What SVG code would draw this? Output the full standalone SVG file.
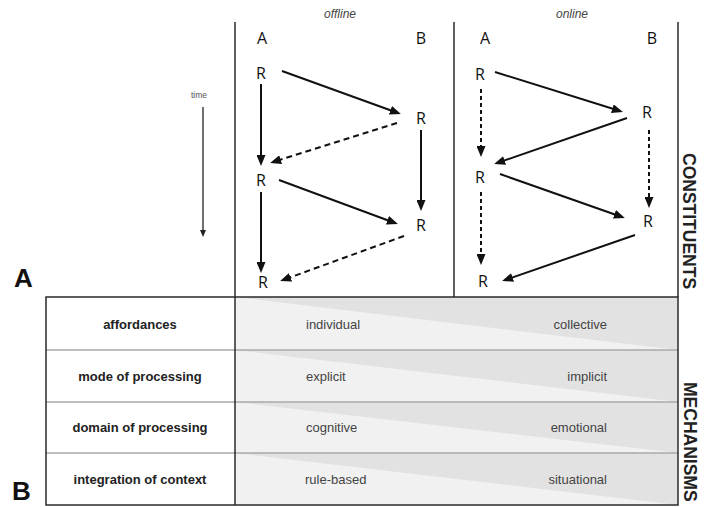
<svg xmlns="http://www.w3.org/2000/svg" width="709" height="507" viewBox="0 0 709 507">
<style>
.frame{stroke:#2a2a2a;stroke-width:1.5;fill:none}
.sep{stroke:#a8a8a8;stroke-width:1.5}
.arr{stroke:#111;stroke-width:2;fill:none;marker-end:url(#ah)}
.dash{stroke-dasharray:6 4}
.dot{stroke-dasharray:4 3}
.r{font-family:"Open Sans","DejaVu Sans",sans-serif;font-size:16px;fill:#111;text-anchor:middle}
.hd{font-family:"Liberation Sans",Arial,sans-serif;font-size:12px;font-style:italic;fill:#444;text-anchor:middle}
.lab{font-family:"Liberation Sans",Arial,sans-serif;font-size:13px;font-weight:bold;fill:#222;text-anchor:middle}
.val{font-family:"Liberation Sans",Arial,sans-serif;font-size:13px;fill:#444}
.big{font-family:"Liberation Sans",Arial,sans-serif;font-size:26px;font-weight:bold;fill:#111}
.side{font-family:"Liberation Sans",Arial,sans-serif;font-size:17.5px;font-weight:bold;fill:#222}
.light{fill:#f1f1f1}
.dark{fill:#e2e2e2}
</style>
<defs>
<marker id="ah" markerUnits="userSpaceOnUse" markerWidth="11" markerHeight="9" refX="8" refY="4.5" orient="auto">
<path d="M0,0 L11,4.5 L0,9 z" fill="#111"/>
</marker>
<marker id="ahs" markerUnits="userSpaceOnUse" markerWidth="7" markerHeight="6" refX="5" refY="3" orient="auto">
<path d="M0,0 L7,3 L0,6 z" fill="#222"/>
</marker>
</defs>

<g id="panel-labels">
<text class="big" x="14" y="287">A</text>
<text class="big" x="12" y="500">B</text>
</g>

<g id="time">
<text x="199" y="98" font-family="Liberation Sans, Arial, sans-serif" font-size="8.5" fill="#555" text-anchor="middle">time</text>
<line x1="203" y1="107" x2="203" y2="235" stroke="#222" stroke-width="1.3" marker-end="url(#ahs)"/>
</g>

<g id="frame-top">
<line class="frame" x1="235" y1="22" x2="235" y2="297"/>
<line class="frame" x1="454" y1="22" x2="454" y2="297"/>
</g>

<g id="heading-offline"><text class="hd" x="340" y="18">offline</text></g>
<g id="heading-online"><text class="hd" x="572" y="18">online</text></g>

<g id="offline-A"><text class="r" x="262" y="44">A</text></g>
<g id="offline-B"><text class="r" x="421" y="44">B</text></g>
<g id="online-A"><text class="r" x="485" y="44">A</text></g>
<g id="online-B"><text class="r" x="652" y="44">B</text></g>

<g id="off-RA1"><text class="r" x="261" y="79">R</text></g>
<g id="off-RB1"><text class="r" x="421" y="124">R</text></g>
<g id="off-RA2"><text class="r" x="261" y="186">R</text></g>
<g id="off-RB2"><text class="r" x="421" y="231">R</text></g>
<g id="off-RA3"><text class="r" x="263" y="288">R</text></g>

<g id="on-RA1"><text class="r" x="480" y="80">R</text></g>
<g id="on-RB1"><text class="r" x="647" y="118">R</text></g>
<g id="on-RA2"><text class="r" x="480" y="183">R</text></g>
<g id="on-RB2"><text class="r" x="648" y="227">R</text></g>
<g id="on-RA3"><text class="r" x="483" y="287">R</text></g>

<g id="connectors">
<line class="arr" x1="282" y1="71" x2="398" y2="113"/>
<line class="arr" x1="261" y1="84" x2="261" y2="163"/>
<line class="arr dash" x1="397" y1="123" x2="273" y2="162"/>
<line class="arr" x1="421" y1="130" x2="421" y2="208"/>
<line class="arr" x1="279" y1="180" x2="395" y2="223"/>
<line class="arr" x1="261" y1="192" x2="261" y2="270"/>
<line class="arr dash" x1="404" y1="236" x2="283" y2="280"/>

<line class="arr" x1="495" y1="72" x2="620" y2="111"/>
<line class="arr dot" x1="481" y1="89" x2="481" y2="154"/>
<line class="arr" x1="627" y1="118" x2="497" y2="163"/>
<line class="arr dot" x1="649" y1="130" x2="649" y2="205"/>
<line class="arr" x1="500" y1="174" x2="622" y2="217"/>
<line class="arr dot" x1="481" y1="192" x2="481" y2="262"/>
<line class="arr" x1="635" y1="235" x2="505" y2="280"/>
</g>

<g id="row-affordances">
<rect class="light" x="235" y="297" width="443" height="53"/>
<polygon class="dark" points="235,297 678,297 678,350"/>
<text class="lab" x="140" y="329">affordances</text>
<text class="val" x="306" y="329">individual</text>
<text class="val" x="607" y="329" text-anchor="end">collective</text>
</g>
<g id="row-mode">
<rect class="light" x="235" y="350" width="443" height="52"/>
<polygon class="dark" points="235,350 678,350 678,402"/>
<text class="lab" x="140" y="381">mode of processing</text>
<text class="val" x="306" y="381">explicit</text>
<text class="val" x="607" y="381" text-anchor="end">implicit</text>
</g>
<g id="row-domain">
<rect class="light" x="235" y="402" width="443" height="51"/>
<polygon class="dark" points="235,402 678,402 678,453"/>
<text class="lab" x="140" y="432">domain of processing</text>
<text class="val" x="306" y="432">cognitive</text>
<text class="val" x="607" y="432" text-anchor="end">emotional</text>
</g>
<g id="row-context">
<rect class="light" x="235" y="453" width="443" height="52"/>
<polygon class="dark" points="235,453 678,453 678,505"/>
<text class="lab" x="140" y="484">integration of context</text>
<text class="val" x="305" y="484">rule-based</text>
<text class="val" x="607" y="484" text-anchor="end">situational</text>
</g>

<g id="table-frame">
<line class="sep" x1="46" y1="350" x2="678" y2="350"/>
<line class="sep" x1="46" y1="402" x2="678" y2="402"/>
<line class="sep" x1="46" y1="453" x2="678" y2="453"/>
<rect class="frame" x="46" y="297" width="632" height="208"/>
<line class="frame" x1="235" y1="297" x2="235" y2="505"/>
<line class="frame" x1="678" y1="22" x2="678" y2="297"/>
</g>

<g id="side-labels">
<text class="side" transform="translate(683,153) rotate(90)">CONSTITUENTS</text>
<text class="side" transform="translate(684,382) rotate(90)">MECHANISMS</text>
</g>
</svg>
